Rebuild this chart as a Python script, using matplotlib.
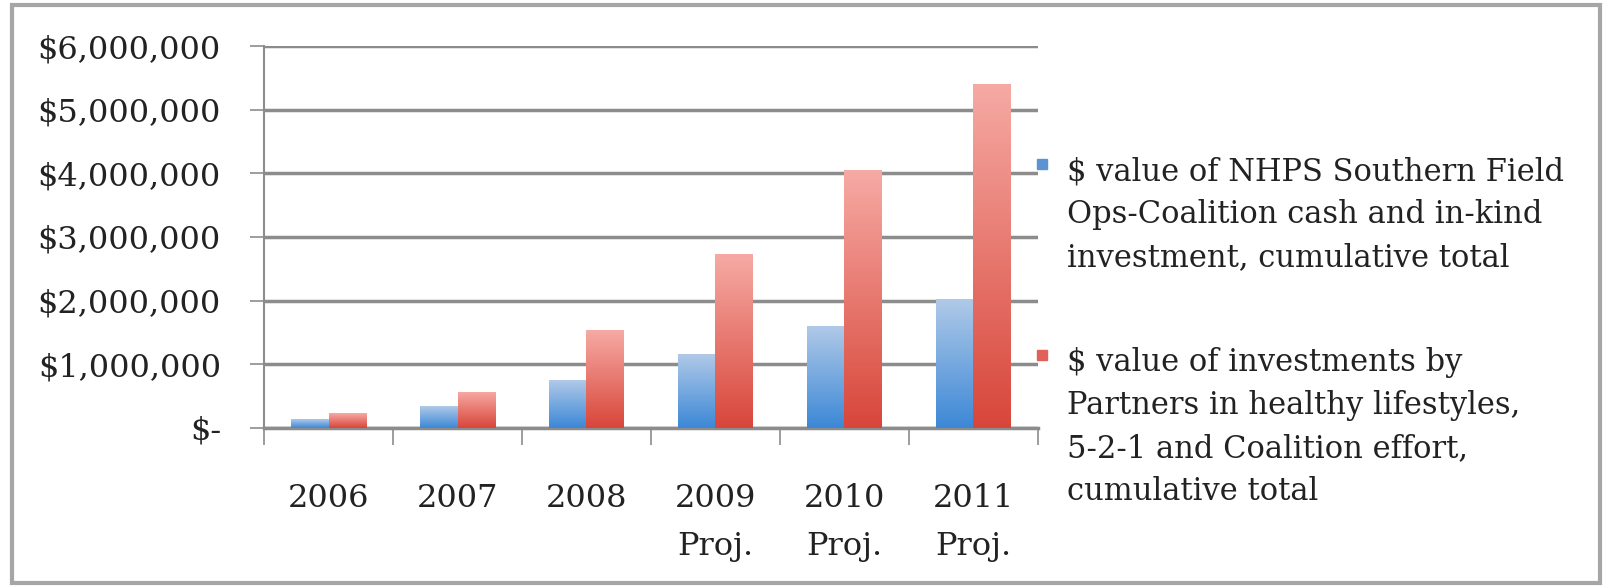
import numpy as np
import matplotlib
matplotlib.use("Agg")
from matplotlib import pyplot as plt
from matplotlib.colors import LinearSegmentedColormap
from matplotlib.patches import Rectangle

years = ['2006', '2007', '2008', '2009\nProj.', '2010\nProj.', '2011\nProj.']
nhps = [140000, 345000, 750000, 1160000, 1600000, 2020000]
partners = [230000, 570000, 1540000, 2730000, 4050000, 5410000]
labels = ['$ value of NHPS Southern Field\nOps-Coalition cash and in-kind\ninvestment, cumulative total',
          '$ value of investments by\nPartners in healthy lifestyles,\n5-2-1 and Coalition effort,\ncumulative total']
yticks = [0, 1000000, 2000000, 3000000, 4000000, 5000000, 6000000]
ytick_labels = ['$-', '$1,000,000', '$2,000,000', '$3,000,000',
                '$4,000,000', '$5,000,000', '$6,000,000']

plt.rcParams['font.family'] = ['DejaVu Serif']
text_color = '#222222'
grid_color = '#8c8c8c'

fig = plt.figure(figsize=(16.04, 5.86), dpi=100)
ax = fig.add_axes([0.1646, 0.27, 0.4825, 0.6515])

# gradient colour maps (bottom -> top)
blue_cmap = LinearSegmentedColormap.from_list('b', ['#3c88d6', '#b0c9e8'])
red_cmap = LinearSegmentedColormap.from_list('r', ['#d8463a', '#f6aaa4'])

x = np.arange(len(years))
w = 0.29
bars1 = ax.bar(x - w / 2, nhps, w, color='#4a8fd8', zorder=3)
bars2 = ax.bar(x + w / 2, partners, w, color='#dc5a4e', zorder=3)

grad = np.linspace(0, 1, 256).reshape(-1, 1)
for bars, cmap in [(bars1, blue_cmap), (bars2, red_cmap)]:
    for b in bars:
        bx, by = b.get_x(), b.get_y()
        bw, bh = b.get_width(), b.get_height()
        im = ax.imshow(grad, cmap=cmap, origin='lower', aspect='auto',
                       extent=[bx, bx + bw, by, by + bh], zorder=4)
        im.set_clip_path(b)

ax.set_xlim(-0.5, len(years) - 0.5)
ax.set_ylim(0, 6000000)

ax.set_yticks(yticks)
ax.set_yticklabels(ytick_labels, fontsize=23, color=text_color)
ax.yaxis.grid(True, color=grid_color, linewidth=2.5, zorder=0)
ax.tick_params(axis='y', length=10, width=1.2, color=grid_color, pad=21)

ax.set_xticks(x)
ax.set_xticklabels(years, fontsize=23, color=text_color, linespacing=1.7)
ax.set_xticks(np.arange(len(years) + 1) - 0.5, minor=True)
ax.tick_params(axis='x', which='major', length=0, pad=40)
ax.tick_params(axis='x', which='minor', length=12, width=1.2, color=grid_color)

for s in ['top', 'right']:
    ax.spines[s].set_visible(False)
ax.spines['left'].set_color(grid_color)
ax.spines['left'].set_linewidth(1.5)
ax.spines['bottom'].set_color(grid_color)
ax.spines['bottom'].set_linewidth(2.5)
ax.set_axisbelow(True)

# legend, drawn by hand so the marker sits at the first line
W, H = 1604, 586
legend_colors = ['#5b93d3', '#e0605a']
legend_y = [172, 363]   # centre of the first line of each entry, px from top
line_step = 42.7
for lab, col, ly in zip(labels, legend_colors, legend_y):
    fig.patches.append(Rectangle((1037 / W, 1 - (ly - 3) / H), 10 / W, 10 / H,
                                 transform=fig.transFigure, color=col))
    for i, line in enumerate(lab.split('\n')):
        fig.text(1067 / W, 1 - (ly + i * line_step) / H, line, fontsize=22,
                 color=text_color, va='center', ha='left')

# outer frame
fig.patches.append(Rectangle((12 / W, 3 / H), 1588 / W, 578 / H, fill=False,
                             edgecolor='#a6a6a6', linewidth=3,
                             transform=fig.transFigure))

fig.savefig('out.png', dpi=100)
